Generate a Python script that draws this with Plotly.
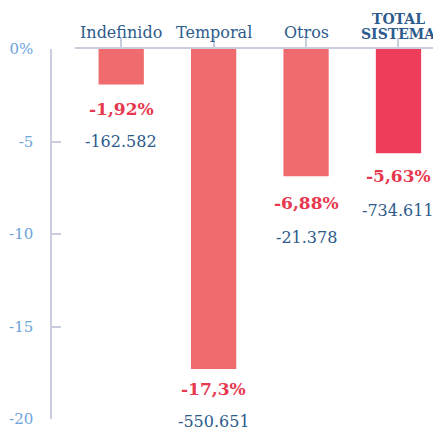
import plotly.graph_objects as go

categories = ["Indefinido", "Temporal", "Otros", "TOTAL SISTEMA"]
category_labels = ["Indefinido", "Temporal", "Otros", "<b>TOTAL<br>SISTEMA</b>"]
pct_change = [-1.92, -17.3, -6.88, -5.63]
abs_change = [-162582, -550651, -21378, -734611]
y_tick_vals = [0, -5, -10, -15, -20]
y_tick_text = ["0%", "-5", "-10", "-15", "-20"]

FONT = "DejaVu Serif"
bar_colors = ["#F06B6E", "#F06B6E", "#F06B6E", "#EE3D5A"]
# label offsets below the bar end (pixels)
pct_shift = [-24, -20, -27, -23]
num_shift = [-57, -52, -61, -57]
label_sizes = [16, 16, 16, 14]

fig = go.Figure()
fig.add_trace(go.Bar(
    x=list(range(len(categories))), y=pct_change, width=0.49,
    marker=dict(color=bar_colors, line=dict(width=0)),
    hoverinfo="skip",
))

ann = []
for i, (p, a) in enumerate(zip(pct_change, abs_change)):
    ptxt = (str(p).replace(".", ",")) + "%"
    atxt = f"{a:,}".replace(",", ".")
    ann.append(dict(x=i, y=p, xref="x", yref="y", text="<b>" + ptxt + "</b>",
                    showarrow=False, yanchor="middle", yshift=pct_shift[i],
                    font=dict(family=FONT, size=17, color="#E8384F")))
    ann.append(dict(x=i, y=p, xref="x", yref="y", text=atxt,
                    showarrow=False, yanchor="middle", yshift=num_shift[i],
                    font=dict(family=FONT, size=16, color="#2E5B8C")))
    label = category_labels[i]
    bold = label.startswith("<b>")
    lines = label.replace("<b>", "").replace("</b>", "").split("<br>")
    n = len(lines)
    for k, line in enumerate(lines):
        txt = "<b>" + line + "</b>" if bold else line
        ann.append(dict(x=i, y=1, xref="x", yref="paper", text=txt,
                        showarrow=False, yanchor="bottom", yshift=5 + (n - 1 - k) * 15,
                        font=dict(family=FONT, size=label_sizes[i], color="#2D5B8C")))

# page body has an 8px default margin; figure sized to fit the 441x433 window
fig.update_layout(
    width=433, height=425,
    margin=dict(l=43, r=0, t=41, b=14),
    paper_bgcolor="white", plot_bgcolor="white",
    showlegend=False,
    annotations=ann,
    xaxis=dict(
        domain=[0.0615, 1], range=[-0.5, 3.46], side="top",
        tickmode="array", tickvals=list(range(len(categories))), showticklabels=False,
        ticks="outside", ticklen=9, tickcolor="#C9CEDF", tickwidth=1.5,
        showline=True, linecolor="#C9CEDF", linewidth=1.5,
        showgrid=False, zeroline=False, automargin=False,
    ),
    yaxis=dict(
        range=[-20, 0], anchor="free", position=0,
        tickmode="array", tickvals=y_tick_vals, ticktext=y_tick_text,
        ticks="inside", ticklen=9, tickcolor="#C9CEDF", tickwidth=1.5,
        showline=True, linecolor="#C9CEDF", linewidth=1.5,
        showgrid=False, zeroline=False, automargin=False,
        ticklabelstandoff=14, ticklabeloverflow="allow",
        tickfont=dict(family=FONT, size=15, color="#6BA3DA"),
    ),
)

fig.write_html("out.html")
